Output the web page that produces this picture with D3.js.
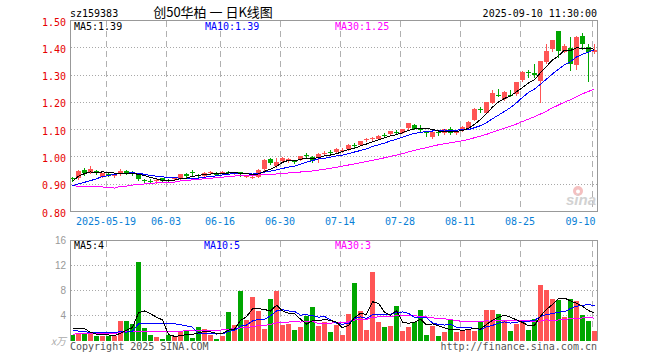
<!DOCTYPE html>
<html><head><meta charset="utf-8">
<script src="https://cdn.jsdelivr.net/npm/d3@7"></script>
<style>body{margin:0;background:#fff}svg{display:block}</style>
</head><body><svg id="c" width="660" height="360"></svg>
<script>
const dates = ["2025-05-09","2025-05-12","2025-05-13","2025-05-14","2025-05-15","2025-05-16","2025-05-19","2025-05-20","2025-05-21","2025-05-22",
"2025-05-23","2025-05-26","2025-05-27","2025-05-28","2025-05-29","2025-05-30","2025-06-03","2025-06-04","2025-06-05","2025-06-06",
"2025-06-09","2025-06-10","2025-06-11","2025-06-12","2025-06-13","2025-06-16","2025-06-17","2025-06-18","2025-06-19","2025-06-20",
"2025-06-23","2025-06-24","2025-06-25","2025-06-26","2025-06-27","2025-06-30","2025-07-01","2025-07-02","2025-07-03","2025-07-04",
"2025-07-07","2025-07-08","2025-07-09","2025-07-10","2025-07-11","2025-07-14","2025-07-15","2025-07-16","2025-07-17","2025-07-18",
"2025-07-21","2025-07-22","2025-07-23","2025-07-24","2025-07-25","2025-07-28","2025-07-29","2025-07-30","2025-07-31","2025-08-01",
"2025-08-04","2025-08-05","2025-08-06","2025-08-07","2025-08-08","2025-08-11","2025-08-12","2025-08-13","2025-08-14","2025-08-15",
"2025-08-18","2025-08-19","2025-08-20","2025-08-21","2025-08-22","2025-08-25","2025-08-26","2025-08-27","2025-08-28","2025-08-29",
"2025-09-01","2025-09-02","2025-09-03","2025-09-04","2025-09-05","2025-09-08","2025-09-09","2025-09-10"];

const open = [0.921,0.921,0.953,0.943,0.949,0.928,0.938,0.929,0.936,0.950,
0.942,0.932,0.915,0.913,0.913,0.921,0.916,0.918,0.921,0.937,
0.944,0.933,0.930,0.941,0.939,0.940,0.944,0.938,0.943,0.928,
0.924,0.927,0.956,0.993,0.966,0.984,0.986,0.985,0.990,1.008,
1.000,0.996,1.014,1.019,1.017,1.022,1.028,1.044,1.045,1.062,
1.066,1.066,1.080,1.083,1.090,1.088,1.105,1.117,1.107,1.092,
1.074,1.093,1.087,1.104,1.088,1.097,1.106,1.136,1.177,1.162,
1.199,1.226,1.214,1.226,1.230,1.281,1.312,1.306,1.279,1.348,
1.394,1.460,1.385,1.400,1.336,1.445,1.403,1.385];

const high = [0.928,0.951,0.958,0.968,0.952,0.942,0.941,0.937,0.957,0.952,
0.947,0.935,0.920,0.918,0.922,0.923,0.919,0.926,0.939,0.940,
0.951,0.938,0.943,0.948,0.944,0.947,0.948,0.946,0.946,0.933,
0.929,0.954,0.992,0.996,0.995,0.999,0.996,0.989,1.004,1.014,
1.003,1.013,1.021,1.025,1.031,1.031,1.046,1.052,1.060,1.068,
1.072,1.080,1.087,1.096,1.097,1.104,1.124,1.120,1.116,1.095,
1.095,1.097,1.104,1.108,1.097,1.113,1.131,1.178,1.184,1.202,
1.247,1.248,1.241,1.245,1.275,1.314,1.318,1.342,1.352,1.415,
1.430,1.462,1.415,1.439,1.442,1.454,1.413,1.413];

const low = [0.912,0.919,0.934,0.941,0.937,0.926,0.930,0.925,0.934,0.938,
0.933,0.915,0.907,0.906,0.906,0.909,0.907,0.915,0.919,0.928,
0.935,0.925,0.928,0.937,0.932,0.937,0.937,0.936,0.929,0.925,
0.921,0.925,0.953,0.975,0.962,0.981,0.983,0.978,0.988,1.000,
0.983,0.982,1.010,1.011,1.015,1.019,1.026,1.036,1.043,1.058,
1.063,1.064,1.072,1.081,1.083,1.086,1.103,1.102,1.093,1.078,
1.071,1.082,1.085,1.085,1.085,1.095,1.104,1.134,1.166,1.160,
1.197,1.222,1.210,1.222,1.228,1.279,1.293,1.293,1.200,1.345,
1.390,1.366,1.383,1.320,1.324,1.397,1.279,1.380];

const close = [0.919,0.949,0.941,0.957,0.940,0.940,0.933,0.935,0.949,0.940,
0.940,0.918,0.913,0.911,0.917,0.912,0.913,0.921,0.937,0.930,
0.942,0.931,0.940,0.943,0.937,0.944,0.942,0.943,0.936,0.930,
0.926,0.953,0.990,0.978,0.982,0.997,0.991,0.983,1.002,1.006,
0.985,1.011,1.016,1.017,1.029,1.027,1.044,1.043,1.058,1.065,
1.069,1.078,1.078,1.095,1.089,1.103,1.123,1.104,1.100,1.088,
1.092,1.091,1.102,1.087,1.095,1.111,1.129,1.176,1.174,1.200,
1.235,1.223,1.239,1.223,1.273,1.312,1.308,1.300,1.350,1.390,
1.427,1.387,1.405,1.342,1.440,1.415,1.385,1.392];

// volume in 万
const volume = [0.9,1.0,1.2,1.3,0.65,0.65,0.65,0.65,3.2,3.2,
2.6,12.55,2.07,0.9,0.6,0.3,0.9,0.65,1.3,1.6,
0.4,2.2,1.85,0.9,0.3,0.65,4.6,2.5,8.0,3.3,
7.0,4.7,1.86,6.65,8.0,2.55,2.66,1.7,2.2,4.0,
5.3,2.4,3.0,1.4,2.5,0.9,4.25,9.25,4.8,1.7,
11.0,3.0,2.2,2.35,5.5,1.6,2.2,2.9,4.9,0.9,
2.4,0.65,1.3,3.3,1.3,1.45,1.7,1.6,3.1,4.9,
4.9,4.25,3.2,1.45,2.66,2.9,1.7,3.4,8.9,8.1,
6.65,6.5,3.8,6.6,6.3,4.1,3.2,1.55];

// moving-average values at the left edge (earlier days are off-chart)
const ma5Head = [0.911,0.929,0.939,0.945];
const ma10Head = [0.895,0.901,0.907,0.913,0.920,0.928,0.932,0.936,0.939];
const ma30Head = [0.895,0.892,0.890,0.890,0.890,0.890,0.888,0.886,0.892,0.893,
0.897,0.899,0.901,0.903,0.905,0.905,0.907,0.908,0.912,0.914,
0.916,0.918,0.920,0.922,0.924,0.926,0.928,0.930,0.931];
const vma5Head = [2.0,2.0,1.9,1.3];
const vma10Head = [1.7,1.5,1.4,1.3,1.3,1.3,1.3,1.3,1.4];
const vma30Head = [1.0,1.1,1.15,1.15,1.15,1.15,1.15,1.15,1.3,1.4,
1.4,1.45,1.45,1.45,1.45,1.45,1.5,1.5,1.5,1.55,
1.55,1.55,1.6,1.6,1.6,1.7,1.8,1.9,2.0];

const priceTicks = [0.8,0.9,1.0,1.1,1.2,1.3,1.4,1.5];
const volTicks = [4,8,12,16];
const tickDates = ["2025-05-19","2025-06-03","2025-06-16","2025-06-30","2025-07-14","2025-07-28","2025-08-11","2025-08-25","2025-09-10"];
const tickLabels = ["2025-05-19","06-03","06-16","06-30","07-14","07-28","08-11","08-25","09-10"];
const code = "sz159383";
const title = "创50华柏 一 日K线图";
const stamp = "2025-09-10 11:30:00";

function movingAvg(arr, n, head){
  return arr.map((_, i) => i < n-1 ? head[i] : d3.mean(arr.slice(i-n+1, i+1)));
}
const ma5 = movingAvg(close,5,ma5Head), ma10 = movingAvg(close,10,ma10Head), ma30 = movingAvg(close,30,ma30Head);
const vma5 = movingAvg(volume,5,vma5Head), vma10 = movingAvg(volume,10,vma10Head), vma30 = movingAvg(volume,30,vma30Head);

const MONO = "'DejaVu Sans Mono', monospace";
const RED = "#ff5555", GREEN = "#00a600";
const svg = d3.select("#c");
const idx = d3.range(dates.length);
const x = d3.scaleBand().domain(idx).range([70, 598]).paddingInner(0).paddingOuter(0);
const y = d3.scaleLinear().domain([0.8, 1.5]).range([211.5, 20.5]);
const yv = d3.scaleLinear().domain([0, 16]).range([340.5, 240.5]);
const L = 70.5, R = 597.5;
const tickIdx = tickDates.map(d => dates.indexOf(d));
const snap = v => Math.round(v) + 0.5;

// header texts
svg.append("text").attr("x",70).attr("y",16.5).attr("font-family",MONO).attr("font-size",10).attr("fill","#000").text(code);
svg.append("text").attr("x",213).attr("y",16.5).attr("text-anchor","middle").attr("font-family","'Noto Sans CJK SC', sans-serif").attr("font-size",13).attr("fill","#000").text(title);
svg.append("text").attr("x",597).attr("y",16.5).attr("text-anchor","end").attr("font-family",MONO).attr("font-size",10).attr("fill","#000").text(stamp);

// ---------- price panel ----------
const gp = svg.append("g");
gp.selectAll("line.hg").data(priceTicks.filter(t => t > 0.8 && t < 1.5)).join("line")
  .attr("x1",L).attr("x2",R).attr("y1",d=>snap(y(d)-0.5)).attr("y2",d=>snap(y(d)-0.5))
  .attr("stroke","#a8a8a8").attr("stroke-dasharray","1,2").attr("shape-rendering","crispEdges");
gp.selectAll("line.vg").data(tickIdx).join("line")
  .attr("x1",d=>x(d)+0.5).attr("x2",d=>x(d)+0.5).attr("y1",20.5).attr("y2",211.5)
  .attr("stroke","#b0b0b0").attr("stroke-dasharray","6,4").attr("shape-rendering","crispEdges");

// sina watermark
svg.append("circle").attr("cx",578).attr("cy",191).attr("r",5).attr("fill","#f4c0c0");
svg.append("circle").attr("cx",578).attr("cy",191.5).attr("r",2).attr("fill","#fff");
svg.append("text").attr("x",596).attr("y",205).attr("text-anchor","end").attr("font-family","'Liberation Sans', sans-serif")
  .attr("font-size",15).attr("font-weight","bold").attr("font-style","italic").attr("fill","#d2d2d2").text("sina");

// candles
const cg = gp.append("g").selectAll("g").data(idx).join("g");
const col = i => close[i] >= open[i] ? RED : GREEN;
cg.append("line").attr("x1",i=>x(i)+2.5).attr("x2",i=>x(i)+2.5)
  .attr("y1",i=>Math.round(y(high[i]))).attr("y2",i=>Math.round(y(low[i]))+1)
  .attr("stroke",col).attr("shape-rendering","crispEdges");
cg.append("rect").attr("x",i=>x(i)).attr("width",5)
  .attr("y",i=>Math.round(y(Math.max(open[i],close[i]))))
  .attr("height",i=>Math.max(1, Math.round(y(Math.min(open[i],close[i]))) - Math.round(y(Math.max(open[i],close[i])))))
  .attr("fill",col).attr("shape-rendering","crispEdges");

// MA lines
const lineP = d3.line().x((d,i)=>x(i)+2.5).y(d=>y(d));
[[ma30,"#ff00ff"],[ma10,"#0000ff"],[ma5,"#000000"]].forEach(([s,c]) =>
  gp.append("path").attr("d",lineP(s)).attr("fill","none").attr("stroke",c).attr("stroke-width",1).attr("shape-rendering","crispEdges"));

// border
gp.append("path").attr("d",`M${L},211.5V20.5H${R}V211.5`).attr("fill","none").attr("stroke","#999").attr("shape-rendering","crispEdges");
gp.append("line").attr("x1",L).attr("x2",R).attr("y1",211.5).attr("y2",211.5).attr("stroke","#999").attr("shape-rendering","crispEdges");

// price axis labels
const ya = svg.append("g").attr("transform","translate(66,0)")
  .call(d3.axisLeft(y).tickValues(priceTicks).tickFormat(d3.format(".2f")).tickSize(0).tickPadding(0));
ya.select(".domain").remove();
ya.selectAll("text").attr("fill","#e60000").attr("font-family",MONO).attr("font-size",10).attr("dy","0.45em");

// date axis labels
const xa = svg.append("g").attr("transform","translate(-3,211.5)")
  .call(d3.axisBottom(x).tickValues(tickIdx).tickFormat((d,i)=>tickLabels[i]).tickSize(0).tickPadding(6));
xa.select(".domain").remove();
xa.selectAll("text").attr("fill","#0a7fd6").attr("font-family",MONO).attr("font-size",10);
xa.selectAll(".tick").filter((d,i)=>i===tickIdx.length-1).select("text").attr("text-anchor","end").attr("dx",3.5);

// MA legend
const leg = (yy, items) => items.forEach(([tx,xx,c]) =>
  svg.append("text").attr("x",xx).attr("y",yy).attr("font-family",MONO).attr("font-size",10).attr("fill",c).text(tx));
const last = dates.length-1;
leg(30, [["MA5:"+ma5[last].toFixed(2),74,"#000"],["MA10:"+ma10[last].toFixed(2),205,"#0000ff"],["MA30:"+ma30[last].toFixed(2),335,"#ff00ff"]]);

// ---------- volume panel ----------
const gv = svg.append("g");
gv.selectAll("line.hg").data(volTicks.filter(t => t < 16)).join("line")
  .attr("x1",L).attr("x2",R).attr("y1",d=>yv(d)).attr("y2",d=>yv(d))
  .attr("stroke","#a8a8a8").attr("stroke-dasharray","1,2").attr("shape-rendering","crispEdges");
gv.selectAll("line.vg").data(tickIdx).join("line")
  .attr("x1",d=>x(d)+0.5).attr("x2",d=>x(d)+0.5).attr("y1",240.5).attr("y2",340.5)
  .attr("stroke","#b0b0b0").attr("stroke-dasharray","6,4").attr("shape-rendering","crispEdges");
gv.selectAll("rect").data(idx).join("rect")
  .attr("x",i=>x(i)).attr("width",5)
  .attr("y",i=>Math.round(yv(volume[i])))
  .attr("height",i=>341 - Math.round(yv(volume[i])))
  .attr("fill",col).attr("shape-rendering","crispEdges");
const lineV = d3.line().x((d,i)=>x(i)+2.5).y(d=>yv(d));
[[vma30,"#ff00ff"],[vma10,"#0000ff"],[vma5,"#000000"]].forEach(([s,c]) =>
  gv.append("path").attr("d",lineV(s)).attr("fill","none").attr("stroke",c).attr("stroke-width",1).attr("shape-rendering","crispEdges"));
gv.append("path").attr("d",`M${L},341V240.5H${R}V341`).attr("fill","none").attr("stroke","#999").attr("shape-rendering","crispEdges");

const va = svg.append("g").attr("transform","translate(66,0)")
  .call(d3.axisLeft(yv).tickValues(volTicks).tickFormat(d3.format("d")).tickSize(0).tickPadding(0));
va.select(".domain").remove();
va.selectAll("text").attr("fill","#999").attr("font-family","'Liberation Sans', sans-serif").attr("font-size",10).attr("dy","0.34em");
svg.append("text").attr("x",66).attr("y",345).attr("text-anchor","end").attr("font-family","'Noto Sans CJK SC', sans-serif")
  .attr("font-size",10).attr("font-style","italic").attr("fill","#aaa").text("x万");

leg(249, [["MA5:"+Math.floor(vma5[last]),74,"#000"],["MA10:"+Math.floor(vma10[last]),204,"#0000ff"],["MA30:"+Math.floor(vma30[last]),335,"#ff00ff"]]);

svg.append("text").attr("x",70).attr("y",350).attr("font-family",MONO).attr("font-size",10).attr("fill","#555").text("Copyright 2025 SINA.COM");
svg.append("text").attr("x",597).attr("y",350).attr("text-anchor","end").attr("font-family",MONO).attr("font-size",10).attr("fill","#555").text("http://finance.sina.com.cn");
</script></body></html>
